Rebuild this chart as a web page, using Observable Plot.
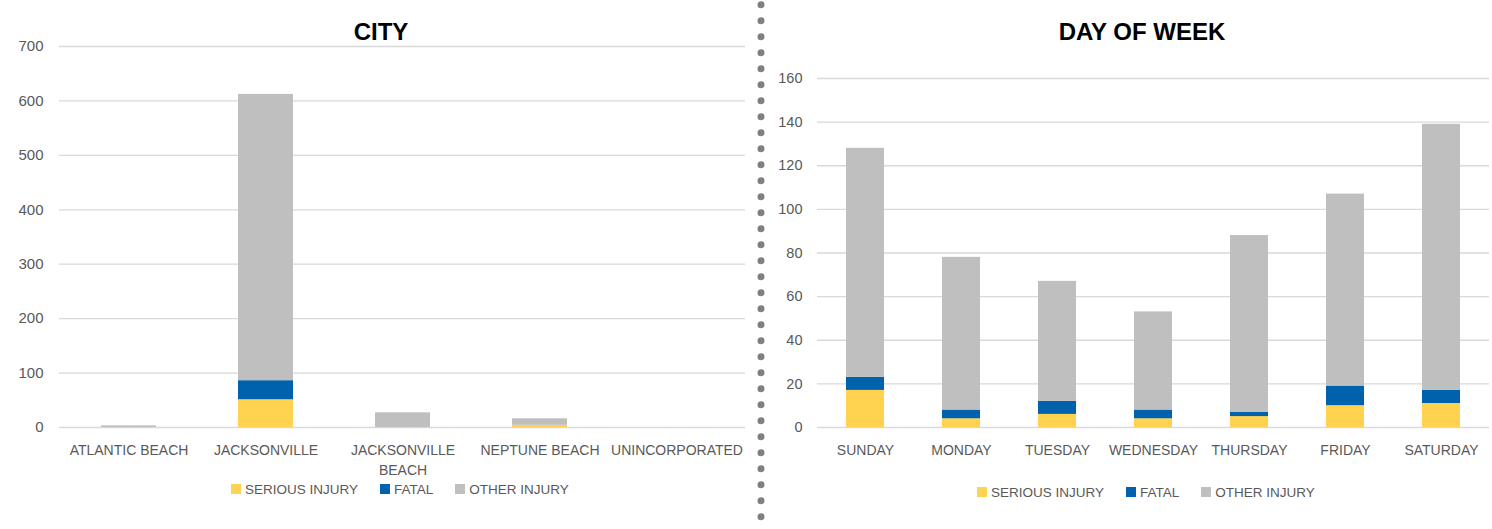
<!DOCTYPE html>
<html>
<head>
<meta charset="utf-8">
<script src="https://cdn.jsdelivr.net/npm/d3@7"></script>
<script src="https://cdn.jsdelivr.net/npm/@observablehq/plot@0.6"></script>
<style>
  html, body { margin: 0; padding: 0; background: #fff; }
  body { width: 1492px; height: 529px; position: relative; overflow: hidden; font-family: "Liberation Sans", Arial, sans-serif; }
  .abs { position: absolute; }
  .title { font-size: 24px; font-weight: bold; color: #000; line-height: 1; white-space: nowrap; transform: translateX(-50%); }
  .legend { display: flex; align-items: center; font-size: 13.5px; line-height: 1; color: #595959; white-space: nowrap; }
  .legend .sw { width: 10px; height: 10px; margin-right: 4px; }
  .legend .item { display: flex; align-items: center; margin-right: 22px; }
</style>
</head>
<body>
<div id="root"></div>
<script>
// ---- data ----
const seriesNames = ["SERIOUS INJURY", "FATAL", "OTHER INJURY"];
const seriesColors = ["#FFD24F", "#0062AC", "#BFBFBF"];

const cities = ["ATLANTIC BEACH", "JACKSONVILLE", "JACKSONVILLE BEACH", "NEPTUNE BEACH", "UNINCORPORATED"];
const cityTickLabels = ["ATLANTIC BEACH", "JACKSONVILLE", "JACKSONVILLE\nBEACH", "NEPTUNE BEACH", "UNINCORPORATED"];
const citySerious = [0, 51, 0, 4, 0];
const cityFatal = [0, 35, 0, 0, 0];
const cityOther = [3, 526, 27, 12, 0];
const cityTicks = [0, 100, 200, 300, 400, 500, 600, 700];

const days = ["SUNDAY", "MONDAY", "TUESDAY", "WEDNESDAY", "THURSDAY", "FRIDAY", "SATURDAY"];
const daySerious = [17, 4, 6, 4, 5, 10, 11];
const dayFatal = [6, 4, 6, 4, 2, 9, 6];
const dayOther = [105, 70, 55, 45, 81, 88, 122];
const dayTicks = [0, 20, 40, 60, 80, 100, 120, 140, 160];

function rows(cats, s, f, o) {
  const out = [];
  cats.forEach((c, i) => {
    out.push({cat: c, series: seriesNames[0], value: s[i]});
    out.push({cat: c, series: seriesNames[1], value: f[i]});
    out.push({cat: c, series: seriesNames[2], value: o[i]});
  });
  return out;
}

const FONT = '"Liberation Sans", Arial, sans-serif';

function chart({data, cats, labels, ticks, ymax, width, height, mt, mb, ml, mr, ypad, yfs}) {
  const labelMap = new Map(cats.map((c, i) => [c, labels[i]]));
  return Plot.plot({
    width, height,
    marginTop: mt, marginBottom: mb, marginLeft: ml, marginRight: mr,
    style: {fontFamily: FONT, fontSize: "14px", color: "#595959", background: "transparent", overflow: "visible"},
    x: {domain: cats, paddingInner: 0.6, paddingOuter: 0.3, label: null},
    y: {domain: [0, ymax], label: null},
    color: {domain: seriesNames, range: seriesColors},
    marks: [
      Plot.gridY(ticks, {stroke: "#D9D9D9", strokeOpacity: 1, strokeWidth: 1.3}),
      Plot.barY(data, {x: "cat", y: "value", fill: "series", order: seriesNames}),
      Plot.axisY({ticks, tickSize: 0, tickPadding: ypad, fontSize: yfs, label: null}),
      Plot.axisX({tickSize: 0, tickPadding: 13, tickFormat: d => labelMap.get(d), lineHeight: 1.45, label: null})
    ]
  });
}

const root = document.getElementById("root");

const left = chart({data: rows(cities, citySerious, cityFatal, cityOther), cats: cities, labels: cityTickLabels,
  ticks: cityTicks, ymax: 700, width: 750, height: 480, mt: 46, mb: 53, ml: 59, mr: 5, ypad: 16, yfs: 15});
left.classList.add("abs"); left.style.left = "0px"; left.style.top = "0px";
root.appendChild(left);

const right = chart({data: rows(days, daySerious, dayFatal, dayOther), cats: days, labels: days,
  ticks: dayTicks, ymax: 160, width: 732, height: 480, mt: 78, mb: 53, ml: 57, mr: 3, ypad: 15, yfs: 14.5});
right.classList.add("abs"); right.style.left = "760px"; right.style.top = "0px";
root.appendChild(right);

// titles
function title(text, cx) {
  const d = document.createElement("div");
  d.className = "abs title"; d.textContent = text;
  d.style.left = cx + "px"; d.style.top = "20px";
  root.appendChild(d);
}
title("CITY", 381);
title("DAY OF WEEK", 1142);

// legends
function legend(x, y) {
  const d = document.createElement("div");
  d.className = "abs legend"; d.style.left = x + "px"; d.style.top = y + "px";
  seriesNames.forEach((n, i) => {
    const it = document.createElement("div"); it.className = "item";
    const sw = document.createElement("div"); sw.className = "sw"; sw.style.background = seriesColors[i];
    const t = document.createElement("span"); t.textContent = n;
    it.appendChild(sw); it.appendChild(t); d.appendChild(it);
  });
  root.appendChild(d);
}
legend(231, 482.5);
legend(977, 485.5);

// dotted separator
const sep = d3.create("svg").attr("width", 14).attr("height", 529)
  .attr("class", "abs").style("left", "754px").style("top", "0px");
sep.append("line").attr("x1", 7).attr("x2", 7).attr("y1", 4.7).attr("y2", 526)
  .attr("stroke", "#808080").attr("stroke-width", 7).attr("stroke-linecap", "round")
  .attr("stroke-dasharray", "0 16");
root.appendChild(sep.node());
</script>
</body>
</html>
